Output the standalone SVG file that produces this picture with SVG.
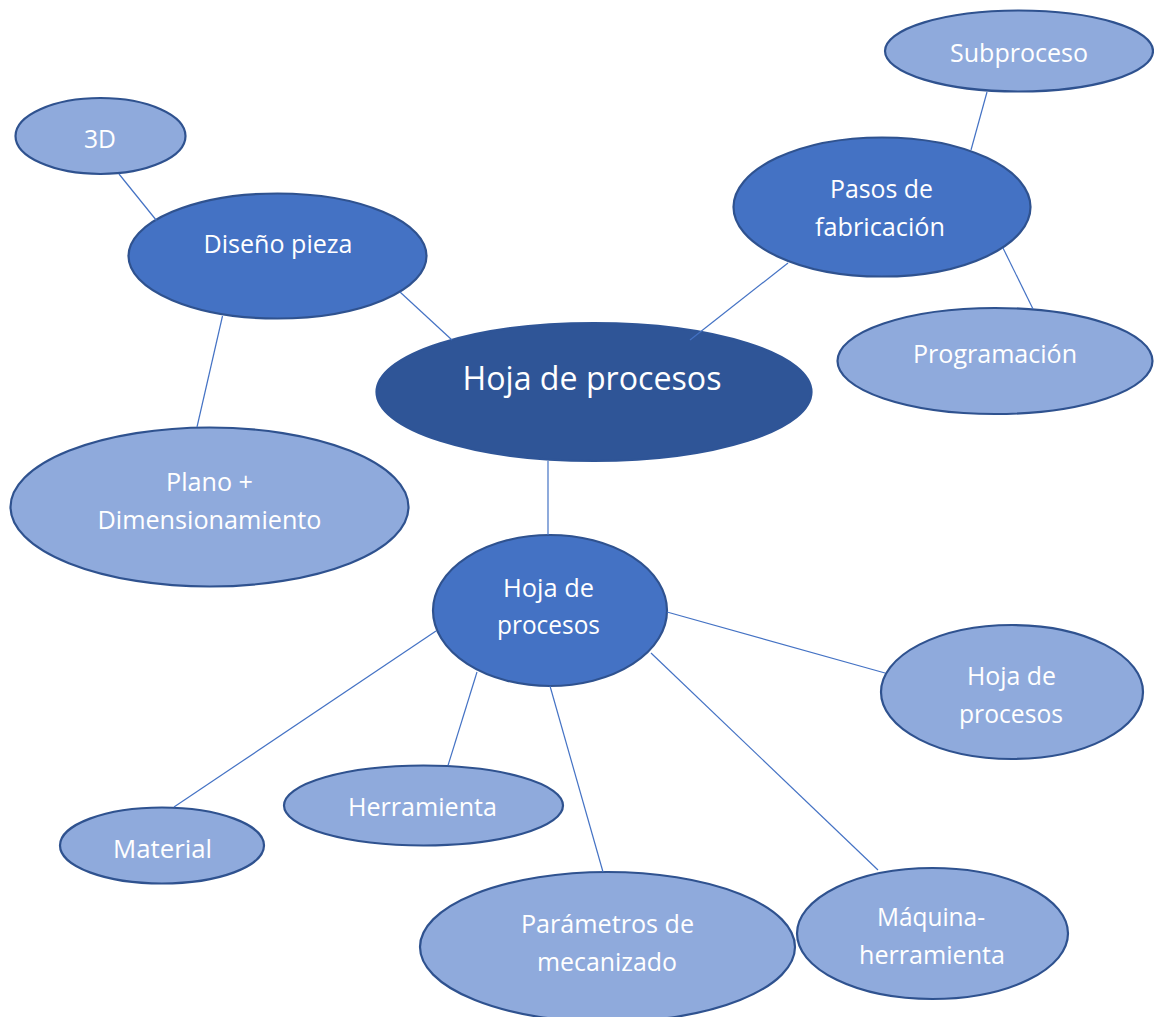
<svg xmlns="http://www.w3.org/2000/svg" width="1154" height="1017" viewBox="0 0 1154 1017">
  <style>
    .node { stroke: #2F528F; stroke-width: 2.2; }
    .light { fill: #8FAADC; }
    .mid { fill: #4472C4; }
    .dark { fill: #2F5597; stroke: #2F5597; }
    .lbl { font-family: "Open Sans", "Noto Sans", sans-serif; font-size: 26px; fill: #FFFFFF; text-anchor: middle; }
    .big { font-size: 33px; }
    .links line { stroke: #4472C4; stroke-width: 1.2; }
  </style>
  <rect width="1154" height="1017" fill="#FFFFFF"/>

  <g id="nodes">
    <g id="n-3d">
      <ellipse class="node light" cx="100.5" cy="136" rx="85" ry="38"/>
      <text class="lbl" x="100" y="148" textLength="32" lengthAdjust="spacingAndGlyphs">3D</text>
    </g>
    <g id="n-diseno">
      <ellipse class="node mid" cx="277.5" cy="256" rx="149" ry="62.5"/>
      <text class="lbl" x="278" y="253" textLength="149" lengthAdjust="spacingAndGlyphs">Diseño pieza</text>
    </g>
    <g id="n-plano">
      <ellipse class="node light" cx="209.5" cy="507" rx="199" ry="79.5"/>
      <text class="lbl" x="209.5" y="491" textLength="87" lengthAdjust="spacingAndGlyphs">Plano +</text>
      <text class="lbl" x="209.5" y="529" textLength="224" lengthAdjust="spacingAndGlyphs">Dimensionamiento</text>
    </g>
    <g id="n-central">
      <ellipse class="node dark" cx="594" cy="392" rx="217.5" ry="69"/>
      <text class="lbl big" x="592" y="390" textLength="259" lengthAdjust="spacingAndGlyphs">Hoja de procesos</text>
    </g>
    <g id="n-subproceso">
      <ellipse class="node light" cx="1019" cy="51" rx="134" ry="40.5"/>
      <text class="lbl" x="1019" y="62" textLength="138" lengthAdjust="spacingAndGlyphs">Subproceso</text>
    </g>
    <g id="n-pasos">
      <ellipse class="node mid" cx="882" cy="207" rx="148.5" ry="69.5"/>
      <text class="lbl" x="881.5" y="198" textLength="103" lengthAdjust="spacingAndGlyphs">Pasos de</text>
      <text class="lbl" x="880" y="236" textLength="130" lengthAdjust="spacingAndGlyphs">fabricación</text>
    </g>
    <g id="n-programacion">
      <ellipse class="node light" cx="995" cy="361" rx="157.5" ry="53"/>
      <text class="lbl" x="995" y="363" textLength="164" lengthAdjust="spacingAndGlyphs">Programación</text>
    </g>
    <g id="n-hoja-mid">
      <ellipse class="node mid" cx="550" cy="610.5" rx="117" ry="75.5"/>
      <text class="lbl" x="548.5" y="597" textLength="91" lengthAdjust="spacingAndGlyphs">Hoja de</text>
      <text class="lbl" x="548.5" y="634" textLength="103" lengthAdjust="spacingAndGlyphs">procesos</text>
    </g>
    <g id="n-hoja-right">
      <ellipse class="node light" cx="1012" cy="692" rx="131" ry="67"/>
      <text class="lbl" x="1011.5" y="685" textLength="89" lengthAdjust="spacingAndGlyphs">Hoja de</text>
      <text class="lbl" x="1011" y="723" textLength="104" lengthAdjust="spacingAndGlyphs">procesos</text>
    </g>
    <g id="n-material">
      <ellipse class="node light" cx="162" cy="845.5" rx="102" ry="38"/>
      <text class="lbl" x="162.5" y="858" textLength="99" lengthAdjust="spacingAndGlyphs">Material</text>
    </g>
    <g id="n-herramienta">
      <ellipse class="node light" cx="423.5" cy="805.5" rx="139.5" ry="40"/>
      <text class="lbl" x="422.5" y="816" textLength="149" lengthAdjust="spacingAndGlyphs">Herramienta</text>
    </g>
    <g id="n-parametros">
      <ellipse class="node light" cx="607.5" cy="947" rx="187.5" ry="75"/>
      <text class="lbl" x="607.5" y="933" textLength="173" lengthAdjust="spacingAndGlyphs">Parámetros de</text>
      <text class="lbl" x="607" y="971" textLength="140" lengthAdjust="spacingAndGlyphs">mecanizado</text>
    </g>
    <g id="n-maquina">
      <ellipse class="node light" cx="932.5" cy="933.5" rx="135.5" ry="65.5"/>
      <text class="lbl" x="931" y="926" textLength="108" lengthAdjust="spacingAndGlyphs">Máquina-</text>
      <text class="lbl" x="932" y="964" textLength="146" lengthAdjust="spacingAndGlyphs">herramienta</text>
    </g>
  </g>

  <g id="links" class="links">
    <line x1="119" y1="174" x2="156.5" y2="220.5"/>
    <line x1="400" y1="292" x2="452" y2="340"/>
    <line x1="222.5" y1="316" x2="197" y2="427"/>
    <line x1="788" y1="263" x2="690" y2="340"/>
    <line x1="987" y1="92" x2="971" y2="150"/>
    <line x1="1003" y1="248" x2="1033" y2="309"/>
    <line x1="548" y1="461" x2="548" y2="535"/>
    <line x1="667" y1="612" x2="885" y2="673"/>
    <line x1="436" y1="631" x2="174" y2="807"/>
    <line x1="477" y1="672" x2="448" y2="765.5"/>
    <line x1="550" y1="686" x2="603" y2="872"/>
    <line x1="651" y1="653" x2="878" y2="870"/>
  </g>
</svg>
